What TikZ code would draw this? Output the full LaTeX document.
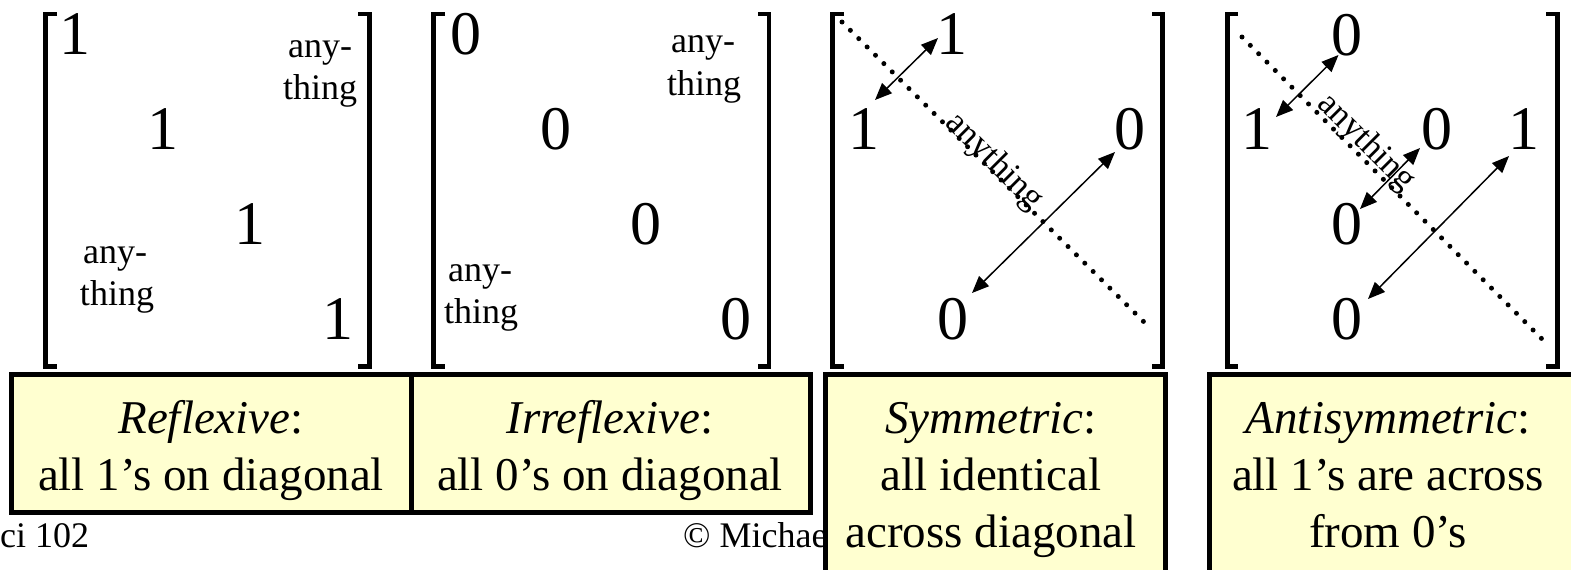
\documentclass[tikz,border=0pt]{standalone}
\usepackage{fontspec}
\setmainfont{Liberation Serif}
\usetikzlibrary{arrows.meta}
\definecolor{boxfill}{RGB}{255,255,208}
\tikzset{
  digit/.style={inner sep=0pt, font=\fontsize{62}{62}\selectfont},
  lbl/.style={inner sep=0pt, anchor=base, font=\fontsize{36}{36}\selectfont},
  diagtxt/.style={inner sep=0pt, rotate=-45, font=\fontsize{35}{35}\selectfont},
  bracketline/.style={line width=4.5pt},
  diagline/.style={line width=5pt, line cap=round, dash pattern=on 0pt off 11.8pt},
  pair/.style={line width=1.5pt, {Triangle[length=17pt,width=14pt]}-{Triangle[length=17pt,width=14pt]}},
  boxstyle/.style={draw, line width=5pt, fill=boxfill},
  boxtxt/.style={inner sep=0pt, anchor=base, font=\fontsize{47}{47}\selectfont},
  foot/.style={inner sep=0pt, anchor=base west, font=\fontsize{36}{36}\selectfont}
}
\begin{document}
\begin{tikzpicture}[x=1pt,y=-1pt]
\useasboundingbox (0,0) rectangle (1571,570);
\clip (0,0) rectangle (1571,570);
\fill[white] (0,0) rectangle (1571,570);

% ---------- brackets ----------
\draw[bracketline] (57,14) -- (45.5,14) -- (45.5,366.5) -- (57,366.5);
\draw[bracketline] (358,14) -- (369.5,14) -- (369.5,366.5) -- (358,366.5);
\draw[bracketline] (445,14) -- (433.7,14) -- (433.7,366.5) -- (445,366.5);
\draw[bracketline] (758,14) -- (769,14) -- (769,366.5) -- (758,366.5);
\draw[bracketline] (844,14) -- (832.5,14) -- (832.5,366.5) -- (844,366.5);
\draw[bracketline] (1152,14) -- (1162.5,14) -- (1162.5,366.5) -- (1152,366.5);
\draw[bracketline] (1238,14) -- (1227.5,14) -- (1227.5,366.5) -- (1238,366.5);
\draw[bracketline] (1546,14) -- (1557.5,14) -- (1557.5,366.5) -- (1546,366.5);

% ---------- matrix 1: reflexive ----------
\node[digit] (ra) at (75,34) {1};
\node[digit] (rb) at (163,129) {1};
\node[digit] (rc) at (250,224) {1};
\node[digit] (rd) at (338,319) {1};
\node[lbl] (rany1) at (320,57) {any-};
\node[lbl] (rthing1) at (320,99) {thing};
\node[lbl] (rany2) at (115,263) {any-};
\node[lbl] (rthing2) at (117,305) {thing};

% ---------- matrix 2: irreflexive ----------
\node[digit] (ia) at (466,34) {0};
\node[digit] (ib) at (556,129) {0};
\node[digit] (ic) at (646,224) {0};
\node[digit] (id) at (736,319) {0};
\node[lbl] (iany1) at (703,52) {any-};
\node[lbl] (ithing1) at (704,95) {thing};
\node[lbl] (iany2) at (480,281) {any-};
\node[lbl] (ithing2) at (481,323) {thing};

% ---------- matrix 3: symmetric ----------
\coordinate (sd1) at (842,22);
\coordinate (sd2) at (1145,323);
\draw[diagline] (sd1) -- (sd2);
\node[digit] (sa) at (952,34) {1};
\node[digit] (sb) at (864,129) {1};
\node[digit] (sc) at (1130,129) {0};
\node[digit] (sdd) at (953,319) {0};
\node[diagtxt] (stxt) at (994,162) {anything};
\coordinate (s1a) at (875,100);
\coordinate (s1b) at (938,38);
\coordinate (s2a) at (972,293);
\coordinate (s2b) at (1115,152);
\draw[pair] (s1a) -- (s1b);
\draw[pair] (s2a) -- (s2b);

% ---------- matrix 4: antisymmetric ----------
\coordinate (ad1) at (1242,37);
\coordinate (ad2) at (1543,340);
\draw[diagline] (ad1) -- (ad2);
\node[digit] (aa) at (1347,35) {0};
\node[digit] (ab) at (1257,129) {1};
\node[digit] (ac) at (1437,129) {0};
\node[digit] (ae) at (1524,129) {1};
\node[digit] (af) at (1347,224) {0};
\node[digit] (ag) at (1347,319) {0};
\node[diagtxt] (atxt) at (1366,143) {anything};
\coordinate (a1a) at (1276,117);
\coordinate (a1b) at (1338.5,55);
\coordinate (a2a) at (1360,209);
\coordinate (a2b) at (1420,148);
\coordinate (a3a) at (1368,299);
\coordinate (a3b) at (1509,156);
\draw[pair] (a1a) -- (a1b);
\draw[pair] (a2a) -- (a2b);
\draw[pair] (a3a) -- (a3b);

% ---------- footer texts ----------
\node[foot] (course) at (0,547) {ci 102};
\node[foot] (copy) at (683,547) {© Michae};

% ---------- boxes ----------
\draw[boxstyle] (11,374.5) rectangle (411,512.5);
\draw[boxstyle] (411,374.5) rectangle (810.5,512.5);
\draw[boxstyle] (825,374.5) rectangle (1165,620);
\draw[boxstyle] (1209.5,374.5) rectangle (1620,620);

\node[boxtxt] (t1a) at (211,433) {\textit{Reflexive}:};
\node[boxtxt] (t1b) at (211,490) {all 1’s on diagonal};
\node[boxtxt] (t2a) at (610,433) {\textit{Irreflexive}:};
\node[boxtxt] (t2b) at (610,490) {all 0’s on diagonal};
\node[boxtxt] (t3a) at (991,433) {\textit{Symmetric}:};
\node[boxtxt] (t3b) at (991,490) {all identical};
\node[boxtxt] (t3c) at (991,547) {across diagonal};
\node[boxtxt] (t4a) at (1388,433) {\textit{Antisymmetric}:};
\node[boxtxt] (t4b) at (1388,490) {all 1’s are across};
\node[boxtxt] (t4c) at (1388,547) {from 0’s};
\end{tikzpicture}
\end{document}
